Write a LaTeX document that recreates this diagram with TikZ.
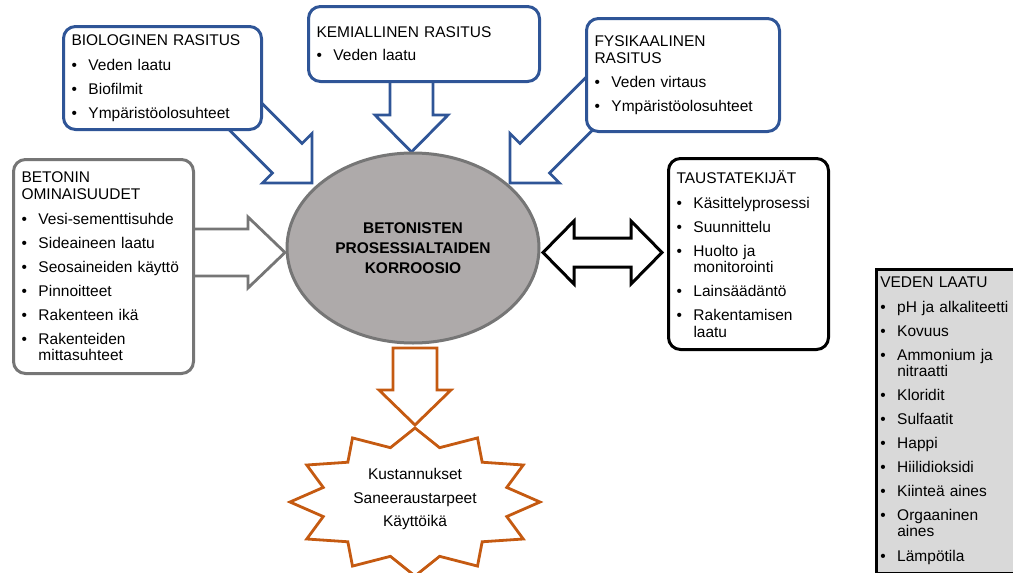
\documentclass[tikz,border=0pt]{standalone}
\usepackage{fontspec}
\setmainfont{Liberation Sans}
\usepackage{tikz}
\usetikzlibrary{calc,shapes.geometric}

\definecolor{rasitusblue}{RGB}{47,85,151}
\definecolor{betonigray}{RGB}{118,118,118}
\definecolor{coregray}{RGB}{174,170,170}
\definecolor{impactorange}{RGB}{197,90,17}
\definecolor{waterfill}{RGB}{217,217,217}

\newcommand{\boxfont}{\fontsize{15.5}{16.5}\selectfont}
\newcommand{\itm}[1]{\mbox{\makebox[17pt][l]{\textbullet}#1}}
\newcommand{\cnt}[1]{\mbox{\hspace*{17pt}#1}}

%Block arrow: #1 style, #2 tail, #3 tip, #4 half shaft, #5 half head, #6 head length
\newcommand{\blockarrow}[6]{%
	\coordinate (#3-base) at ($(#3)!#6!(#2)$);
	\draw[#1] (#3) -- ($(#3-base)!#5!90:(#2)$) -- ($(#3-base)!#4!90:(#2)$) -- ($(#2)!#4!-90:(#3)$) -- ($(#2)!#4!90:(#3)$) -- ($(#3-base)!#4!-90:(#2)$) -- ($(#3-base)!#5!-90:(#2)$) -- cycle;}
%Double block arrow: #1 style, #2 left tip, #3 right tip, #4 half shaft, #5 half head, #6 head length
\newcommand{\doubleblock}[6]{%
	\coordinate (#2-base) at ($(#2)!#6!(#3)$);
	\coordinate (#3-base) at ($(#3)!#6!(#2)$);
	\draw[#1] (#2) -- ($(#2-base)!#5!90:(#3)$) -- ($(#2-base)!#4!90:(#3)$) -- ($(#3-base)!#4!-90:(#2)$) -- ($(#3-base)!#5!-90:(#2)$) -- (#3) -- ($(#3-base)!#5!90:(#2)$) -- ($(#3-base)!#4!90:(#2)$) -- ($(#2-base)!#4!-90:(#3)$) -- ($(#2-base)!#5!-90:(#3)$) -- cycle;}

\begin{document}
\begin{tikzpicture}[x=1pt,y=-1pt,
	rasitus/.style={draw=rasitusblue, line width=3pt, rounded corners=12pt, fill=white, anchor=north west, inner xsep=8pt, inner ysep=0pt, align=left, font=\boxfont},
	betoni/.style={rasitus, draw=betonigray},
	tausta/.style={rasitus, draw=black},
	waterbox/.style={draw=black, line width=2.5pt, fill=waterfill, anchor=north west, inner xsep=4pt, inner ysep=0pt, align=left, font=\boxfont},
	bluearrow/.style={draw=rasitusblue, line width=2.8pt, fill=white, line join=miter},
	grayarrow/.style={draw=betonigray, line width=2.8pt, fill=white, line join=miter},
	blackarrow/.style={draw=black, line width=3pt, fill=white, line join=miter},
	orangearrow/.style={draw=impactorange, line width=2.8pt, fill=white, line join=miter}]
	\useasboundingbox (0,0) rectangle (1013,573);

	%Arrow ends (tails sit under the boxes)
	\coordinate (biotail) at (215,86);
	\coordinate (biotip) at (312,183);
	\coordinate (kemtail) at (411.5,60);
	\coordinate (kemtip) at (411.5,152);
	\coordinate (fystail) at (607,86);
	\coordinate (fystip) at (510,183);
	\coordinate (bettail) at (150,252.5);
	\coordinate (bettip) at (285,252.5);
	\coordinate (tauleft) at (543,252.5);
	\coordinate (tauright) at (662,252.5);
	\coordinate (coretail) at (415,348);
	\coordinate (coretip) at (415,425);

	%The block arrows
	\blockarrow{bluearrow}{biotail}{biotip}{21pt}{35pt}{35pt}
	\blockarrow{bluearrow}{kemtail}{kemtip}{21.5pt}{36.5pt}{37pt}
	\blockarrow{bluearrow}{fystail}{fystip}{21pt}{35pt}{35pt}
	\blockarrow{grayarrow}{bettail}{bettip}{23.5pt}{35.5pt}{37pt}
	\doubleblock{blackarrow}{tauleft}{tauright}{14.5pt}{31.5pt}{31pt}
	\blockarrow{orangearrow}{coretail}{coretip}{22pt}{36pt}{35pt}

	%Stress boxes
	\node[rasitus, text width=182pt, minimum height=103pt] (bio) at (62,25)
		{BIOLOGINEN RASITUS\\[8.5pt]\itm{Veden laatu}\\[7.5pt]\itm{Biofilmit}\\[7.5pt]\itm{Ympäristöolosuhteet}};
	\node[rasitus, text width=215pt, minimum height=75pt] (kem) at (307,5)
		{KEMIALLINEN RASITUS\\[6.5pt]\itm{Veden laatu}};
	\node[rasitus, text width=177pt, minimum height=113pt] (fys) at (585,17)
		{FYSIKAALINEN\\RASITUS\\[7.5pt]\itm{Veden virtaus}\\[7.5pt]\itm{Ympäristöolosuhteet}};

	%Concrete properties
	\node[betoni, text width=164pt, minimum height=214pt] (bet) at (12,158)
		{BETONIN\\OMINAISUUDET\\[8.5pt]\itm{Vesi-sementtisuhde}\\[7.5pt]\itm{Sideaineen laatu}\\[7.5pt]\itm{Seosaineiden käyttö}\\[7.5pt]\itm{Pinnoitteet}\\[7.5pt]\itm{Rakenteen ikä}\\[7.5pt]\itm{Rakenteiden}\\\cnt{mittasuhteet}};

	%Background factors
	\node[tausta, text width=144pt, minimum height=191pt] (tau) at (667,157)
		{TAUSTATEKIJÄT\\[8.5pt]\itm{Käsittelyprosessi}\\[7.5pt]\itm{Suunnittelu}\\[7.5pt]\itm{Huolto ja}\\\cnt{monitorointi}\\[7.5pt]\itm{Lainsäädäntö}\\[7.5pt]\itm{Rakentamisen}\\\cnt{laatu}};

	%Water quality
	\node[waterbox, text width=142pt, minimum height=303.5pt] (ved) at (875,268)
		{VEDEN LAATU\\[8.5pt]\itm{pH ja alkaliteetti}\\[7pt]\itm{Kovuus}\\[7.5pt]\itm{Ammonium ja}\\\cnt{nitraatti}\\[7.5pt]\itm{Kloridit}\\[7.5pt]\itm{Sulfaatit}\\[7.5pt]\itm{Happi}\\[7pt]\itm{Hiilidioksidi}\\[7.5pt]\itm{Kiinteä aines}\\[7.5pt]\itm{Orgaaninen}\\\cnt{aines}\\[8.5pt]\itm{Lämpötila}};

	%The corrosion ellipse
	\node[ellipse, draw=betonigray, fill=coregray, line width=3pt, minimum width=252pt, minimum height=190pt, inner sep=0pt, align=center, font=\fontsize{15.5}{20}\selectfont\bfseries] (core) at (413,248)
		{BETONISTEN\\PROSESSIALTAIDEN\\KORROOSIO};

	%Consequences star
	\draw[draw=impactorange, line width=2.8pt, fill=white, line join=miter, shift={(415,502)}]
		plot[samples at={0,...,23}, variable=\k] ({(1-0.24*mod(\k,2))*125*cos(90+15*\k)}, {(1-0.24*mod(\k,2))*74*sin(90+15*\k)}) -- cycle;
	\node[align=center, font=\fontsize{15.5}{23.5}\selectfont] (impact) at (415,499)
		{Kustannukset\\Saneeraustarpeet\\Käyttöikä};
\end{tikzpicture}
\end{document}
